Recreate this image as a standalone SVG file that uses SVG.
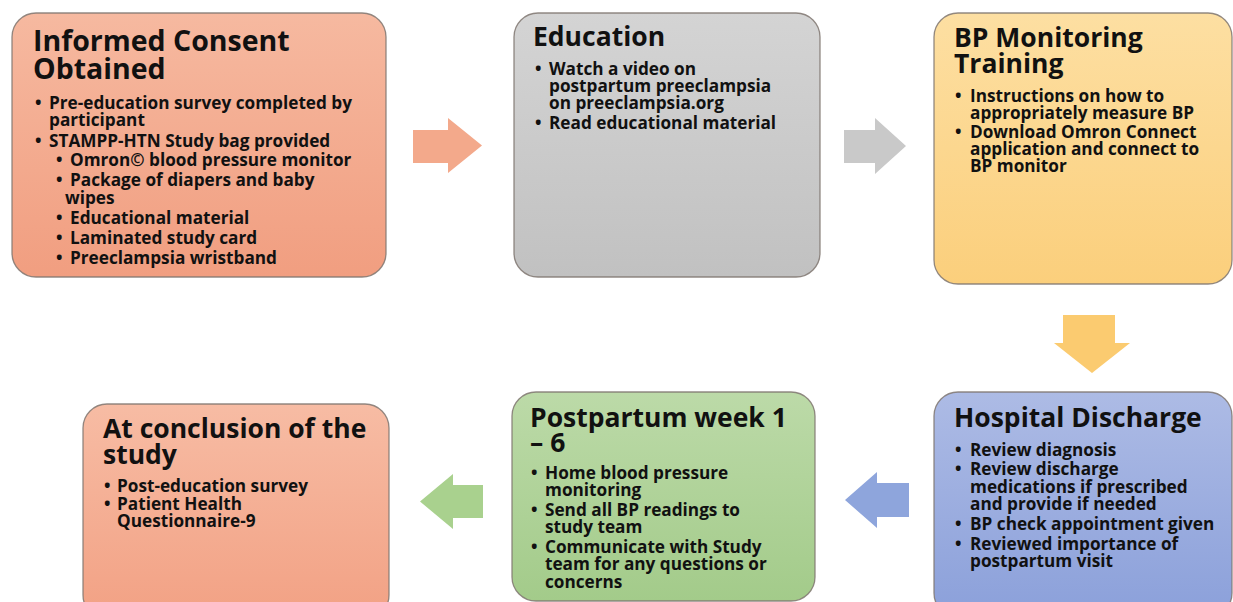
<svg xmlns="http://www.w3.org/2000/svg" width="1233" height="602" viewBox="0 0 1233 602">
<defs>
<linearGradient id="gSalmon" x1="0" y1="0" x2="0" y2="1"><stop offset="0" stop-color="#F6B9A0"/><stop offset="1" stop-color="#F19E80"/></linearGradient>
<linearGradient id="gGray" x1="0" y1="0" x2="0" y2="1"><stop offset="0" stop-color="#D4D4D4"/><stop offset="1" stop-color="#C1C1C1"/></linearGradient>
<linearGradient id="gYellow" x1="0" y1="0" x2="0" y2="1"><stop offset="0" stop-color="#FDDFA2"/><stop offset="1" stop-color="#FBCF7C"/></linearGradient>
<linearGradient id="gBlue" x1="0" y1="0" x2="0" y2="1"><stop offset="0" stop-color="#ADBBE5"/><stop offset="1" stop-color="#8BA0DA"/></linearGradient>
<linearGradient id="gGreen" x1="0" y1="0" x2="0" y2="1"><stop offset="0" stop-color="#BCDAA8"/><stop offset="1" stop-color="#A3CB8A"/></linearGradient>
<linearGradient id="gSalmon2" x1="0" y1="0" x2="0" y2="1"><stop offset="0" stop-color="#F7BCA4"/><stop offset="1" stop-color="#F2A184"/></linearGradient>
</defs>
<style>
.box{stroke:#7f7670;stroke-width:1.3;stroke-opacity:0.85}
.t{font-family:"Open Sans","DejaVu Sans",sans-serif;font-weight:bold;font-size:26.5px;fill:#111}
.t1{font-size:28.5px}
.b{font-family:"Open Sans","DejaVu Sans",sans-serif;font-weight:bold;font-size:17.2px;fill:#111}
</style>
<g id="connectors">
<polygon id="a1" fill="#F3A98B" points="413,130 448,130 448,118 482,145.5 448,173 448,163 413,163"/>
<polygon id="a2" fill="#C9C9C9" points="844,130 875,130 875,118 906,146 875,174 875,163 844,163"/>
<polygon id="a3" fill="#FBCB70" points="1063,315 1115,315 1115,343 1130,343 1092,373 1054,343 1063,343"/>
<polygon id="a4" fill="#8EA5DC" points="909,483 909,517 877,517 877,528 845,500 877,472 877,483"/>
<polygon id="a5" fill="#A9D18E" points="483,485 483,518 453,518 453,529 420,501.5 453,474 453,485"/>
</g>
<g id="n1">
<rect class="box" x="12" y="13" width="374" height="264" rx="24" fill="url(#gSalmon)"/>
<text class="t t1" x="33" y="51">Informed Consent</text>
<text class="t t1" x="33" y="79">Obtained</text>
<text class="b" x="35" y="109">•</text><text class="b" x="49" y="109">Pre-education survey completed by</text>
<text class="b" x="49" y="126">participant</text>
<text class="b" x="35" y="147">•</text><text class="b" x="49" y="147">STAMPP-HTN Study bag provided</text>
<text class="b" x="56" y="166">•</text><text class="b" x="70" y="166">Omron© blood pressure monitor</text>
<text class="b" x="56" y="186">•</text><text class="b" x="70" y="186">Package of diapers and baby</text>
<text class="b" x="65" y="204">wipes</text>
<text class="b" x="56" y="224">•</text><text class="b" x="70" y="224">Educational material</text>
<text class="b" x="56" y="244">•</text><text class="b" x="70" y="244">Laminated study card</text>
<text class="b" x="56" y="264">•</text><text class="b" x="70" y="264">Preeclampsia wristband</text>
</g>
<g id="n2">
<rect class="box" x="514" y="13" width="306" height="264" rx="24" fill="url(#gGray)"/>
<text class="t" x="533" y="46">Education</text>
<text class="b" x="535" y="75">•</text><text class="b" x="549" y="75">Watch a video on</text>
<text class="b" x="549" y="92">postpartum preeclampsia</text>
<text class="b" x="549" y="109">on preeclampsia.org</text>
<text class="b" x="535" y="129">•</text><text class="b" x="549" y="129">Read educational material</text>
</g>
<g id="n3">
<rect class="box" x="934" y="13" width="298" height="271" rx="24" fill="url(#gYellow)"/>
<text class="t" x="954" y="47">BP Monitoring</text>
<text class="t" x="954" y="73">Training</text>
<text class="b" x="955" y="102">•</text><text class="b" x="970" y="102">Instructions on how to</text>
<text class="b" x="970" y="119">appropriately measure BP</text>
<text class="b" x="955" y="138">•</text><text class="b" x="970" y="138">Download Omron Connect</text>
<text class="b" x="970" y="155">application and connect to</text>
<text class="b" x="970" y="172">BP monitor</text>
</g>
<g id="n4">
<rect class="box" x="934" y="392" width="298" height="225" rx="24" fill="url(#gBlue)"/>
<text class="t" x="954" y="427">Hospital Discharge</text>
<text class="b" x="955" y="456">•</text><text class="b" x="970" y="456">Review diagnosis</text>
<text class="b" x="955" y="475">•</text><text class="b" x="970" y="475">Review discharge</text>
<text class="b" x="970" y="493">medications if prescribed</text>
<text class="b" x="970" y="510">and provide if needed</text>
<text class="b" x="955" y="530">•</text><text class="b" x="970" y="530">BP check appointment given</text>
<text class="b" x="955" y="550">•</text><text class="b" x="970" y="550">Reviewed importance of</text>
<text class="b" x="970" y="567">postpartum visit</text>
</g>
<g id="n5">
<rect class="box" x="512" y="392" width="303" height="209" rx="24" fill="url(#gGreen)"/>
<text class="t" x="530" y="427">Postpartum week 1</text>
<text class="t" x="530" y="452">– 6</text>
<text class="b" x="531" y="479">•</text><text class="b" x="545" y="479">Home blood pressure</text>
<text class="b" x="545" y="496">monitoring</text>
<text class="b" x="531" y="516">•</text><text class="b" x="545" y="516">Send all BP readings to</text>
<text class="b" x="545" y="533">study team</text>
<text class="b" x="531" y="553">•</text><text class="b" x="545" y="553">Communicate with Study</text>
<text class="b" x="545" y="570">team for any questions or</text>
<text class="b" x="545" y="588">concerns</text>
</g>
<g id="n6">
<rect class="box" x="83" y="404" width="306" height="215" rx="24" fill="url(#gSalmon2)"/>
<text class="t" x="103" y="438">At conclusion of the</text>
<text class="t" x="103" y="464">study</text>
<text class="b" x="104" y="492">•</text><text class="b" x="117" y="492">Post-education survey</text>
<text class="b" x="104" y="510">•</text><text class="b" x="117" y="510">Patient Health</text>
<text class="b" x="117" y="527">Questionnaire-9</text>
</g>
</svg>
